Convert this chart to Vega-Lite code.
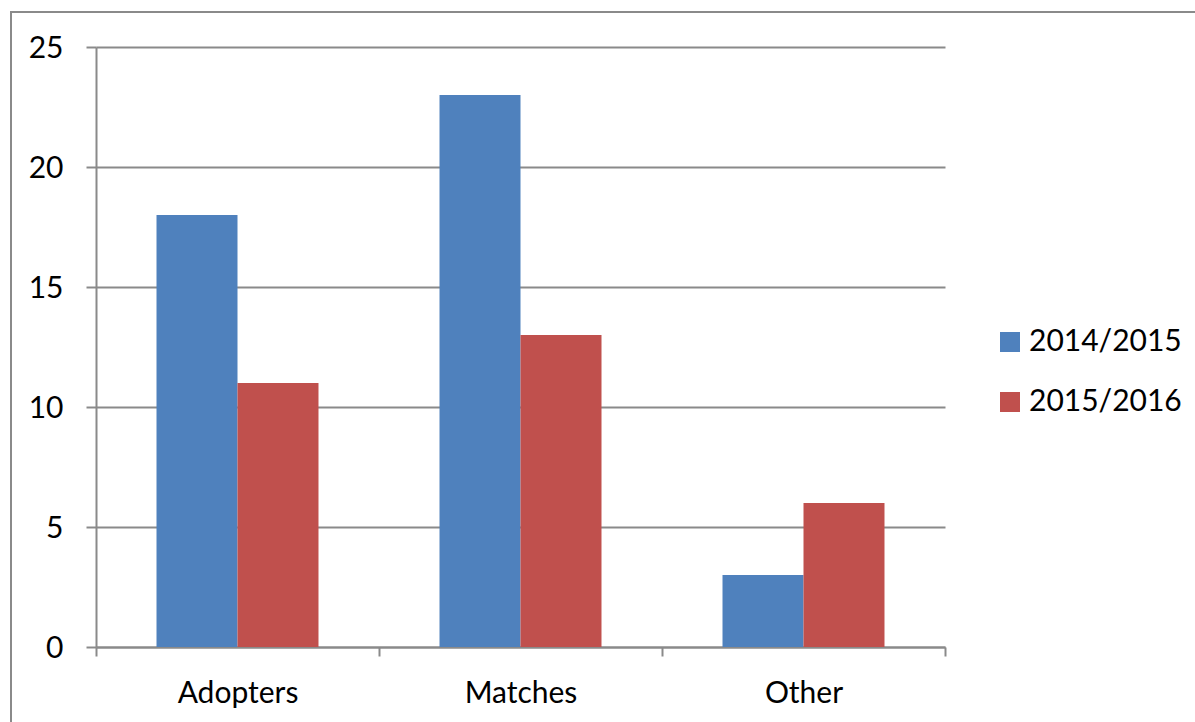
{
  "$schema": "https://vega.github.io/schema/vega-lite/v6.json",
  "width": 1190,
  "height": 715,
  "autosize": {"type": "none"},
  "padding": {"left": 11, "top": 12, "right": -6, "bottom": -5},
  "background": "white",
  "config": {
    "view": {"stroke": "#8a8a8a", "strokeWidth": 2},
    "font": "Lato",
    "axis": {
      "labelColor": "#000000",
      "labelFontSize": 30,
      "labelFont": "Lato",
      "domainColor": "#8a8a8a",
      "domainWidth": 2,
      "tickColor": "#8a8a8a",
      "tickWidth": 2,
      "gridColor": "#8a8a8a",
      "gridWidth": 2,
      "gridOpacity": 1,
      "title": null
    }
  },
  "data": {
    "values": [
      {"category": "Adopters", "year": "2014/2015", "value": 18},
      {"category": "Adopters", "year": "2015/2016", "value": 11},
      {"category": "Matches", "year": "2014/2015", "value": 23},
      {"category": "Matches", "year": "2015/2016", "value": 13},
      {"category": "Other", "year": "2014/2015", "value": 3},
      {"category": "Other", "year": "2015/2016", "value": 6}
    ]
  },
  "mark": {"type": "bar"},
  "encoding": {
    "x": {
      "field": "category",
      "type": "nominal",
      "sort": ["Adopters", "Matches", "Other"],
      "scale": {"range": [85, 934], "paddingInner": 0, "paddingOuter": 0},
      "axis": {
        "title": null,
        "labelAngle": 0,
        "offset": -80,
        "tickBand": "extent",
        "tickSize": 9,
        "labelPadding": 22,
        "grid": false
      }
    },
    "xOffset": {
      "field": "year",
      "type": "nominal",
      "scale": {"paddingInner": 0, "paddingOuter": 0.747}
    },
    "y": {
      "field": "value",
      "type": "quantitative",
      "scale": {"domain": [0, 25], "range": [635, 35], "nice": false, "zero": true},
      "axis": {
        "title": null,
        "values": [0, 5, 10, 15, 20, 25],
        "offset": -85,
        "tickSize": 10,
        "labelPadding": 23,
        "labelOffset": 1,
        "grid": true
      }
    },
    "color": {
      "field": "year",
      "type": "nominal",
      "scale": {"domain": ["2014/2015", "2015/2016"], "range": ["#4F81BD", "#C0504D"]},
      "legend": {
        "orient": "none",
        "legendX": 984,
        "legendY": 315,
        "title": null,
        "symbolType": "square",
        "symbolSize": 400,
        "symbolStrokeWidth": 0,
        "labelFontSize": 30,
        "labelColor": "#000000",
        "labelOffset": 4,
        "rowPadding": 30,
        "padding": 0
      }
    }
  }
}
